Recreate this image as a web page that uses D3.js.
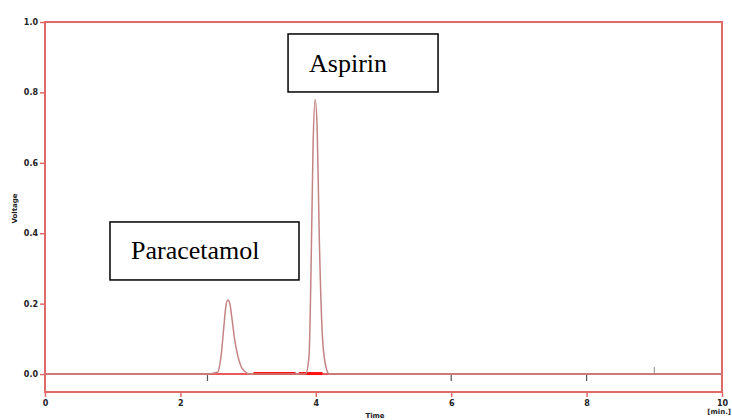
<!DOCTYPE html>
<html>
<head>
<meta charset="utf-8">
<script src="https://cdn.jsdelivr.net/npm/d3@7"></script>
<style>
  body { margin: 0; background: #fff; }
  svg { display: block; }
</style>
</head>
<body>
<div id="chart"></div>
<script>
const width = 732;
const height = 420;

// chromatogram trace
const timeMin = [0, 2.4, 2.55, 2.6, 2.64, 2.67, 2.7, 2.73, 2.76, 2.8, 2.85, 2.9, 2.95, 3.02,
  3.5, 3.85, 3.9, 3.93, 3.96, 3.99, 4.02, 4.05, 4.1, 4.15, 4.2, 5, 10];
const voltage = [0, 0, 0.005, 0.05, 0.13, 0.19, 0.21, 0.2, 0.16, 0.1, 0.05, 0.02, 0.008, 0,
  0, 0, 0.05, 0.3, 0.65, 0.78, 0.7, 0.4, 0.1, 0.02, 0, 0, 0];

const xTicks = [0, 2, 4, 6, 8, 10];
const yTicks = [0, 0.2, 0.4, 0.6, 0.8, 1.0];

// peak annotations: label, box left/top in data units
const peakNames = ["Paracetamol", "Aspirin"];
const peakBoxTime = [0.96, 3.59];
const peakBoxVolt = [0.432, 0.966];

// integration baseline (bright red)
const baseStart = [3.08, 3.75];
const baseEnd = [3.7, 4.1];

// small integration markers on the baseline
const markTime = [2.4, 6.0, 8.0];

const margin = {top: 22, right: 10, bottom: 28, left: 45};

const x = d3.scaleLinear().domain([0, 10]).range([margin.left, width - margin.right]);
const y = d3.scaleLinear().domain([-0.051, 1.0]).range([height - margin.bottom, margin.top]);

const svg = d3.select("#chart").append("svg")
    .attr("width", width)
    .attr("height", height);

const frameColor = "#e06a6a";

// frame
svg.append("rect")
    .attr("x", x(0)).attr("y", y(1))
    .attr("width", x(10) - x(0)).attr("height", y(-0.051) - y(1))
    .attr("fill", "none")
    .attr("stroke", frameColor)
    .attr("stroke-width", 2);

// axes
const xAxis = svg.append("g")
    .attr("transform", `translate(0,${y(-0.051)})`)
    .call(d3.axisBottom(x).tickValues(xTicks).tickSize(5).tickPadding(3).tickFormat(d3.format("d")));
const yAxis = svg.append("g")
    .attr("transform", `translate(${x(0)},0)`)
    .call(d3.axisLeft(y).tickValues(yTicks).tickSize(5).tickPadding(2).tickFormat(d3.format(".1f")));

[xAxis, yAxis].forEach(g => {
  g.select(".domain").remove();
  g.selectAll(".tick line").attr("stroke", frameColor).attr("stroke-width", 1.5);
  g.selectAll(".tick text")
    .attr("fill", "#222")
    .style("font", "bold 8px 'DejaVu Sans', sans-serif");
});

// axis titles
svg.append("text")
    .attr("x", 731).attr("y", 414)
    .attr("text-anchor", "end")
    .style("font", "bold 7px 'DejaVu Sans', sans-serif")
    .attr("fill", "#222")
    .text("[min.]");
svg.append("text")
    .attr("x", 375).attr("y", 418)
    .attr("text-anchor", "middle")
    .style("font", "bold 7px 'DejaVu Sans', sans-serif")
    .attr("fill", "#222")
    .text("Time");
svg.append("text")
    .attr("transform", `translate(17,${y(0.47)}) rotate(-90)`)
    .attr("text-anchor", "middle")
    .style("font", "bold 7px 'DejaVu Sans', sans-serif")
    .attr("fill", "#222")
    .text("Voltage");

// zero baseline
svg.append("line")
    .attr("x1", x(0)).attr("x2", x(10))
    .attr("y1", y(0)).attr("y2", y(0))
    .attr("stroke", "#ea5a5a")
    .attr("stroke-width", 2);

svg.append("g")
  .selectAll("line")
  .data(baseStart)
  .join("line")
    .attr("x1", d => x(d))
    .attr("x2", (d, i) => x(baseEnd[i]))
    .attr("y1", y(0) - 0.5).attr("y2", y(0) - 0.5)
    .attr("stroke", "#ff1010")
    .attr("stroke-width", 3);

svg.append("g")
  .selectAll("line")
  .data(markTime)
  .join("line")
    .attr("x1", d => x(d)).attr("x2", d => x(d))
    .attr("y1", y(0) + 1).attr("y2", y(0) + 7)
    .attr("stroke", "#555")
    .attr("stroke-width", 1.2);

svg.append("line")
    .attr("x1", x(9.0)).attr("x2", x(9.0))
    .attr("y1", y(0) - 7).attr("y2", y(0) - 1)
    .attr("stroke", "#888")
    .attr("stroke-width", 1);

// trace
const points = timeMin.map((t, i) => [t, voltage[i]]);
const line = d3.line()
    .x(d => x(d[0]))
    .y(d => y(d[1]))
    .curve(d3.curveMonotoneX);

svg.append("path")
    .datum(points)
    .attr("fill", "none")
    .attr("stroke", "#c48484")
    .attr("stroke-width", 1.5)
    .attr("d", line);

// annotation boxes
const boxes = svg.append("g")
  .selectAll("g")
  .data(peakNames)
  .join("g")
    .attr("transform", (d, i) => `translate(${x(peakBoxTime[i])},${y(peakBoxVolt[i])})`);

boxes.append("rect")
    .attr("width", (d, i) => i === 0 ? 189 : 150)
    .attr("height", 58)
    .attr("fill", "#fff")
    .attr("stroke", "#000")
    .attr("stroke-width", 1.5);

boxes.append("text")
    .attr("x", 21).attr("y", (d, i) => i === 0 ? 37 : 38)
    .style("font", "26px 'Liberation Serif', 'Times New Roman', serif")
    .attr("fill", "#000")
    .text(d => d);
</script>
</body>
</html>
